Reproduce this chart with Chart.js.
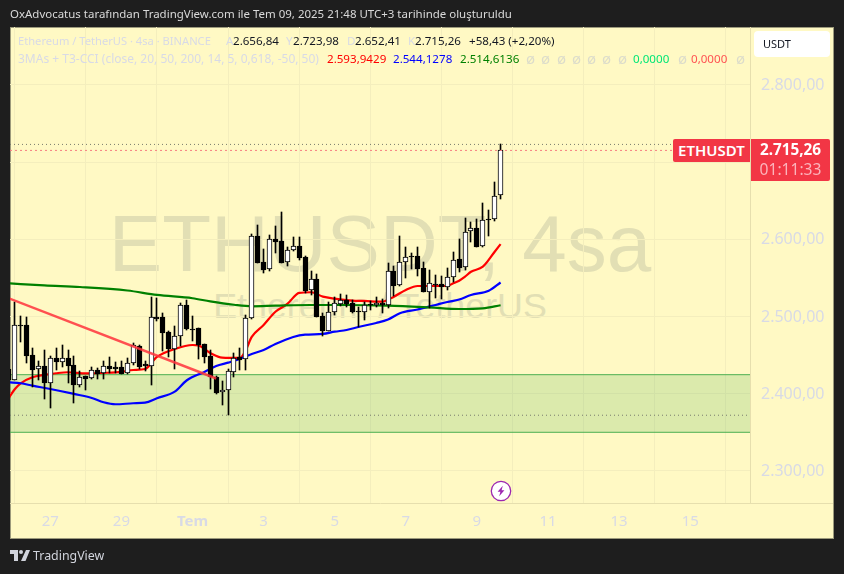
<!DOCTYPE html>
<html lang="tr">
<head>
<meta charset="utf-8">
<title>ETHUSDT 4sa</title>
<script src="https://cdn.jsdelivr.net/npm/chart.js@4"></script>
<style>
  html, body { margin: 0; padding: 0; }
  body { position: relative; width: 844px; height: 574px; overflow: hidden; background: #1e1e1e; font-family: "Noto Sans", sans-serif; }
  #panel { position: absolute; left: 10px; top: 27px; width: 824px; height: 512px; box-sizing: border-box; background: #fff9c4; border: 1px solid #9c9a7c; }
  #myChart { position: absolute; left: 0; top: 0; z-index: 1; }
  .t { position: absolute; white-space: nowrap; z-index: 2; font-size: 11.6px; line-height: 16px; }
  .wm { position: absolute; white-space: nowrap; color: #e2dfb4; text-align: center; font-family: "Liberation Sans", sans-serif; }
  .dim { color: #d8dae6; }
  .num { color: #131722; }
  .nil { color: #dcdccb; font-size: 15px; top: 50px; }
  #title { left: 10px; top: 6px; color: #d9d9d9; font-size: 11.47px; }
  #usdt { position: absolute; z-index: 2; left: 754px; top: 31px; width: 76px; height: 26px; box-sizing: border-box; background: #fff; border-radius: 4px; color: #131722; font-size: 11px; line-height: 26px; padding-left: 9px; }
  #symBox { position: absolute; z-index: 2; left: 673px; top: 139px; width: 77px; height: 23px; background: #f23645; border-radius: 2px 0 0 2px; color: #fff; font-size: 15px; font-weight: 600; line-height: 23px; text-align: center; }
  #priceBox { position: absolute; z-index: 2; left: 751px; top: 139px; width: 79px; height: 42px; background: #f23645; border-radius: 0 2px 2px 0; text-align: center; }
  #priceBox div:first-child { color: #fff; font-size: 15.3px; font-weight: 700; line-height: 21px; }
  #priceBox div:last-child { color: #fbb4bb; font-size: 15.6px; line-height: 18px; }
  #axisLine { position: absolute; z-index: 2; left: 751px; top: 503px; width: 82px; height: 1px; background: #e6dfae; }
  #logoText { left: 33px; top: 547px; color: #d1d4dc; font-size: 12.4px; line-height: 18px; }
  svg { position: absolute; z-index: 2; }
</style>
</head>
<body>
<div id="panel"></div>
<div class="wm" style="left:60px;top:194px;width:640px;font-size:80px;line-height:100px">ETHUSDT, 4sa</div>
<div class="wm" style="left:160px;top:284px;width:440px;font-size:35.8px;line-height:44px">Ethereum / TetherUS</div>
<canvas id="myChart" width="844" height="574"></canvas>

<div class="t" id="title">OxAdvocatus tarafından TradingView.com ile Tem 09, 2025 21:48 UTC+3 tarihinde oluşturuldu</div>

<div class="t dim" style="left:18px;top:33px;font-size:11.15px">Ethereum / TetherUS · 4sa · BINANCE</div>
<div class="t dim" style="left:226px;top:33px">A</div><div class="t num" style="left:233px;top:33px">2.656,84</div>
<div class="t dim" style="left:286px;top:33px">Y</div><div class="t num" style="left:293px;top:33px">2.723,98</div>
<div class="t dim" style="left:347px;top:33px">D</div><div class="t num" style="left:355px;top:33px">2.652,41</div>
<div class="t dim" style="left:408px;top:33px">K</div><div class="t num" style="left:415px;top:33px">2.715,26</div>
<div class="t num" style="left:469px;top:33px">+58,43 (+2,20%)</div>

<div class="t dim" style="left:18px;top:51px;font-size:12px">3MAs + T3-CCI (close, 20, 50, 200, 14, 5, 0,618, -50, 50)</div>
<div class="t" style="left:327px;top:51px;color:#ff0000">2.593,9429</div>
<div class="t" style="left:393px;top:51px;color:#0000ff">2.544,1278</div>
<div class="t" style="left:460px;top:51px;color:#008000">2.514,6136</div>
<div class="t nil" style="left:526px">ø</div><div class="t nil" style="left:541px">ø</div>
<div class="t nil" style="left:557px">ø</div><div class="t nil" style="left:572px">ø</div>
<div class="t nil" style="left:587px">ø</div><div class="t nil" style="left:602px">ø</div>
<div class="t nil" style="left:618px">ø</div>
<div class="t" style="left:633px;top:51px;color:#00e676">0,0000</div>
<div class="t nil" style="left:678px">ø</div>
<div class="t" style="left:691px;top:51px;color:#ff5252">0,0000</div>
<div class="t nil" style="left:736px">ø</div>

<div id="usdt">USDT</div>
<div id="symBox">ETHUSDT</div>
<div id="priceBox"><div>2.715,26</div><div>01:11:33</div></div>
<div id="axisLine"></div>

<svg style="left:490px;top:480px" width="22" height="22" viewBox="0 0 22 22">
  <circle cx="11" cy="11" r="9.7" fill="#fff" stroke="#9c27b0" stroke-width="1.3"/>
  <path d="M12.8 5.8 L7.6 11.8 H10.4 L9.2 16.2 L14.4 10.2 H11.6 Z" fill="#9c27b0"/>
</svg>
<svg style="left:10px;top:550px" width="20" height="11" viewBox="0 0 20 11">
  <path d="M0 0 H8 V11 H4 V4 H0 Z M16 0 H20 L15.5 11 H11 Z" fill="#d1d4dc"/>
  <circle cx="11" cy="2" r="2" fill="#d1d4dc"/>
</svg>
<div class="t" id="logoText">TradingView</div>

<script>
// bar numbers: 0 is the 27 tick, one bar is 4 hours
const firstBar = -7;

const opens = [2432.1,2417.5,2489.5,2489.1,2450.3,2431.8,2436,2414.4,2446.4,2441.6,2446.4,2437.3,2411.8,2422.7,2420.1,2430.5,2426.6,2435.6,2434.3,2434.3,2426.6,2439.5,2461.5,2438,2436.4,2499.1,2499.5,2479.7,2457.7,2474.5,2514.6,2484.3,2484.8,2464.1,2448.6,2422.2,2402,2404.6,2428.6,2447.3,2444.7,2497.8,2604,2570.7,2561.3,2600.1,2597.5,2570.3,2585.9,2591,2577.2,2534.1,2548.3,2500.8,2481.7,2506.3,2516.7,2521.5,2517,2507.3,2505.6,2515.7,2514.6,2517.2,2515.4,2558.7,2540.5,2570.3,2579.1,2578.1,2562.5,2532.2,2542.6,2541.8,2537.9,2551.7,2574.2,2563.8,2610.5,2614.3,2591,2626,2626,2656.84];
const highs = [2436,2519.3,2500.8,2499.9,2459,2442.5,2456.7,2449,2459.3,2462.8,2456.7,2449,2429.6,2423.1,2434.3,2433.4,2442.5,2447.3,2441.2,2442.5,2446.4,2465.8,2463.2,2442.9,2525,2523.7,2505,2481.4,2487.8,2517.2,2521.5,2500.8,2485.2,2464.5,2456.7,2423.1,2417,2431.8,2452.5,2459,2502.1,2606.6,2618.6,2587.2,2605.7,2617.3,2635.5,2590.5,2602.7,2602.7,2578.5,2559.1,2555.2,2504.3,2519.3,2525.8,2528.9,2528,2521.5,2512.8,2519.3,2520.6,2525,2522.4,2569,2565.5,2604.4,2589.7,2582.8,2589.7,2571.1,2560.3,2553.9,2553,2563.3,2584,2600.1,2627.3,2622.9,2626,2646.7,2638,2674.7,2723.98];
const lows = [2412.7,2417.5,2467.5,2440.3,2409.2,2417.9,2393.3,2382,2430.8,2435.1,2414.4,2388.5,2409.2,2404.9,2418.8,2419.6,2419.6,2426.6,2426.6,2425.3,2425.7,2437.3,2432.1,2430,2411.8,2494.7,2455.8,2447.3,2431.8,2462,2482.6,2468.8,2445.1,2440.3,2406.6,2399.8,2385.9,2372.2,2422.2,2430.8,2430.8,2496.9,2569.4,2556.9,2559.4,2582,2569.4,2565.9,2585.3,2573.3,2530.2,2527.6,2499.1,2474.9,2481.4,2502.1,2513.7,2512,2505,2486.9,2495.6,2508.5,2512.8,2504.3,2511.1,2526.7,2540,2549.6,2561.3,2552.6,2531.9,2510.7,2523.7,2522.4,2534.4,2545.2,2558.1,2560.3,2597,2590.1,2590.6,2604.4,2624.2,2652.41];
const closes = [2417.9,2489.1,2489,2449.4,2431.2,2435.6,2414.4,2446,2441.2,2446,2436,2411.8,2422.2,2419.6,2430.5,2425.7,2435.6,2432.1,2432.1,2426.1,2439.5,2462.8,2435.1,2436,2499.1,2496.9,2479.2,2457.7,2474.5,2514.6,2484,2483.7,2463.2,2447.7,2422.2,2401.1,2404.6,2429.2,2446,2443.8,2497.8,2604,2569.8,2560.7,2600.1,2597,2569.8,2585.9,2591,2576.3,2533.2,2548.3,2499.9,2481.7,2506.3,2517.2,2521.1,2516.3,2506.3,2505.6,2515.4,2515,2517.2,2515.4,2558.7,2540,2570.3,2576.8,2578.5,2562,2532.2,2543.1,2540.9,2537.7,2551.7,2573.7,2563.3,2609.9,2614.3,2590.5,2624.7,2624.7,2655.8,2715.26];

// moving averages, read at the bars listed
const ma20Bars = [-7,-6,-5,-3,-1,1,3,6,9,12,14,16,18,21,24,25,27,29,32,33,34,36,38,40,42,44,46,48,51,53,56,58,60,62,64,67,68,69,70,71,73,75,76];
const ma20Values = [2394.6,2405.9,2413.6,2421.4,2424.4,2426.6,2427.9,2426.3,2427,2428.3,2430.8,2432.1,2447.7,2458,2463.2,2462.6,2452.9,2446.8,2446.4,2456.7,2473.6,2489.1,2506.3,2516.3,2530.6,2531.5,2525.8,2523.2,2520.6,2520.2,2519.3,2525.8,2534.4,2539.6,2539.6,2539.6,2543.1,2546.5,2551.7,2558.1,2564.6,2584,2593.94];
const ma50Bars = [-7,-5,-3,0,4,7,9,11,14,16,18,21,23,26,28,30,32,34,36,38,41,43,46,48,50,52,55,57,59,62,65,67,69,71,74,76];
const ma50Values = [2414.9,2413.6,2410.5,2406.2,2399.8,2394.6,2389,2386.4,2387.7,2388.5,2394.2,2402.7,2417.2,2428.3,2436,2440.3,2445.1,2451.6,2456.7,2464.5,2473.6,2476.6,2477.5,2480.4,2482.6,2486.5,2491.7,2496.2,2504.3,2509.2,2515,2518.9,2522.1,2528,2533.5,2544.13];
const ma200Bars = [-7,-1,5,13,18,24,27,31,34,38,44,50,57,64,69,73,76];
const ma200Values = [2543.1,2540.3,2538.3,2533.8,2528,2523.7,2519.6,2515.3,2513.3,2514.1,2515,2515,2514.1,2511.8,2509.8,2510.7,2514.61];

const slideBars = [-7, 28];
const slideValues = [2523.7, 2419.8];

const zoneTop = 2424.7;
const zoneBottom = 2350.1;
const lastPrice = 2715.26;
const highLine = 2723;
const lowLine = 2372.2;

const xTicks = [0, 12, 24, 36, 48, 60, 72, 84, 96, 108];
const xLabels = ['27', '29', 'Tem', '3', '5', '7', '9', '11', '13', '15'];
const yTicks = [2300, 2400, 2500, 2600, 2700, 2800];
const yLabels = ['2.300,00', '2.400,00', '2.500,00', '2.600,00', '', '2.800,00'];

const xMin = -6.8;
const xMax = 118.09;

function series(bars, values) {
  return bars.map((b, i) => ({ x: b, y: values[i] }));
}
function flat(v) {
  return [{ x: xMin, y: v }, { x: xMax, y: v }];
}

const barNo = opens.map((o, i) => firstBar + i);
const wicks = barNo.map((b, i) => ({ x: b, y: [lows[i], highs[i]] }));
const bodies = barNo.map((b, i) => ({ x: b, y: [opens[i], closes[i]] }));
const bodyColors = opens.map((o, i) => (closes[i] >= o ? '#ffffff' : '#000000'));

function maLine(label, data, color, order) {
  return {
    type: 'line', label, data, order,
    borderColor: color, borderWidth: 2.2, pointRadius: 0,
    cubicInterpolationMode: 'monotone'
  };
}
function dotted(label, v, color, dash) {
  return {
    type: 'line', label, data: flat(v), order: 0,
    borderColor: color, borderWidth: 1, borderDash: dash, pointRadius: 0
  };
}

// keep the candles on whole pixels like the original
const snapBars = {
  id: 'snapBars',
  afterDatasetsUpdate(chart) {
    chart.data.datasets.forEach((ds, d) => {
      if (ds.type !== 'bar') return;
      chart.getDatasetMeta(d).data.forEach(el => {
        el.x = Math.floor(el.x) + 0.5;
        el.y = Math.round(el.y);
        el.base = Math.round(el.base);
        if (el.base === el.y) el.base = el.y + 1;
        el.height = el.base - el.y;
      });
    });
  }
};

const ctx = document.getElementById('myChart').getContext('2d');

new Chart(ctx, {
  type: 'bar',
  plugins: [snapBars],
  data: {
    datasets: [
      { type: 'line', label: 'zoneTop', data: flat(zoneTop), order: 9, borderColor: '#4caf50', borderWidth: 1, pointRadius: 0, fill: '+1', backgroundColor: 'rgba(76,175,80,0.2)' },
      { type: 'line', label: 'zoneBottom', data: flat(zoneBottom), order: 9, borderColor: '#4caf50', borderWidth: 1, pointRadius: 0 },
      maLine('MA200', series(ma200Bars, ma200Values), '#008000', 6),
      maLine('MA50', series(ma50Bars, ma50Values), '#0000ff', 6),
      maLine('MA20', series(ma20Bars, ma20Values), '#ff0000', 6),
      { type: 'bar', label: 'wick', data: wicks, order: 4, grouped: false, barThickness: 1, backgroundColor: '#000000', borderWidth: 0 },
      { type: 'bar', label: 'body', data: bodies, order: 3, grouped: false, barThickness: 5, backgroundColor: bodyColors, borderColor: '#000000', borderWidth: 1, borderSkipped: false },
      { type: 'line', label: 'slide', data: series(slideBars, slideValues), order: 1, borderColor: 'rgba(255,50,60,0.85)', borderWidth: 2.5, pointRadius: 0 },
      dotted('last', lastPrice, '#f77c80', [2, 3]),
      dotted('high', highLine, '#787b6c', [1, 3]),
      dotted('low', lowLine, '#787b6c', [1, 3])
    ]
  },
  options: {
    responsive: false,
    animation: false,
    events: [],
    layout: { padding: { left: 10, top: 27, right: 10, bottom: 36 } },
    plugins: { legend: { display: false }, tooltip: { enabled: false } },
    scales: {
      x: {
        type: 'linear', min: xMin, max: xMax, offset: false,
        afterBuildTicks: s => { s.ticks = xTicks.map(v => ({ value: v })); },
        afterFit: s => { s.height = 35; },
        grid: { color: '#f4eebd', drawTicks: false },
        border: { color: '#e6dfae' },
        ticks: {
          padding: 10, color: '#d8dae6', maxRotation: 0, autoSkip: false,
          font: c => ({ family: 'Noto Sans', size: 15, weight: xLabels[c.index] === 'Tem' ? '700' : '400' }),
          callback: (v, i) => xLabels[i]
        }
      },
      y: {
        type: 'linear', position: 'right', min: 2258.5, max: 2875.1,
        afterBuildTicks: s => { s.ticks = yTicks.map(v => ({ value: v })); },
        afterFit: s => { s.width = 84; },
        grid: { color: '#f4eebd', drawTicks: false },
        border: { color: '#e6dfae' },
        ticks: {
          color: '#d8dae6', crossAlign: 'near', labelOffset: 0.5, padding: 11, autoSkip: false,
          font: { family: 'Noto Sans', size: 16 },
          callback: (v, i) => yLabels[i]
        }
      }
    }
  }
});
</script>
</body>
</html>
